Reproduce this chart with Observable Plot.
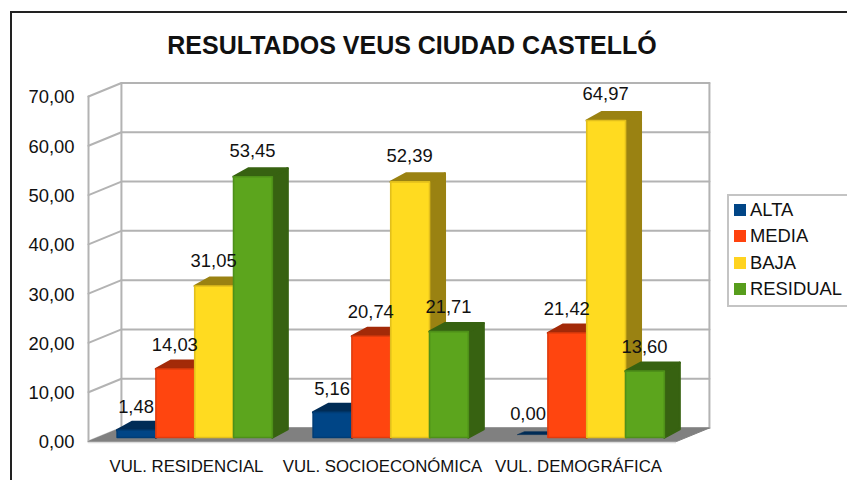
<!DOCTYPE html>
<html>
<head>
<meta charset="utf-8">
<script src="https://cdn.jsdelivr.net/npm/d3@7"></script>
<script src="https://cdn.jsdelivr.net/npm/@observablehq/plot@0.6"></script>
<style>
html,body{margin:0;padding:0;background:#fff;overflow:hidden;width:847px;height:480px;font-family:"Liberation Sans",Arial,sans-serif;color:#111}
#wrap{position:relative;width:847px;height:480px;overflow:hidden}
#chart{position:absolute;left:0;top:0}
#frame{position:absolute;left:10px;top:11px;width:900px;height:520px;border:2px solid #222;box-sizing:border-box}
#title{position:absolute;left:0;width:824px;top:30px;text-align:center;font-weight:bold;font-size:25px;line-height:30px;color:#111;white-space:nowrap}
#legend{position:absolute;left:727px;top:194px;width:150px;height:113px;border:2px solid #c4c4c4;box-sizing:border-box}
.row{position:absolute;left:0;height:26px;line-height:26px;font-size:18.4px;white-space:nowrap}
.sw{position:absolute;left:5px;top:7px;width:12px;height:12px}
.lb{position:absolute;left:21px;top:0}
</style>
</head>
<body>
<div id="wrap">
  <div id="chart"></div>
  <div id="frame"></div>
  <div id="title"></div>
  <div id="legend"></div>
</div>
<script>
const titleText = "RESULTADOS VEUS CIUDAD CASTELLÓ";
const categories = ["VUL. RESIDENCIAL", "VUL. SOCIOECONÓMICA", "VUL. DEMOGRÁFICA"];
const seriesNames = ["ALTA", "MEDIA", "BAJA", "RESIDUAL"];
const alta = [1.48, 5.16, 0.00];
const media = [14.03, 20.74, 21.42];
const baja = [31.05, 52.39, 64.97];
const residual = [53.45, 21.71, 13.60];
const seriesValues = [alta, media, baja, residual];
const frontColors = ["#004586", "#ff420e", "#ffd320", "#579d1c"];
const faceFront   = ["#004586", "#ff450f", "#ffdb20", "#5ca51d"];
const edgeColors  = ["#003d76", "#e03c0d", "#e2bf1c", "#4e9019"];
const sideColors  = ["#002c56", "#a32a08", "#9a8212", "#376211"];
const yTicks = [0, 10, 20, 30, 40, 50, 60, 70];

// Oblique-projection proportions, in data units
const wallDX = 0.168, wallDY = 2.74;   // floor depth
const barStart = 0.146, barW = 0.198;  // first bar offset and bar width in group units
const liftY = 0.81;                    // bars stand slightly behind the floor's front edge
const sideDX = 0.078, sideDY = 1.7;    // bar depth
const barScale = 0.99;                 // foreshortening of the bar plane

const polys = [];
const addPoly = (id, pts, fill, stroke, sw) =>
  pts.concat([pts[0]]).forEach(([x, y]) => polys.push({id, x, y, fill, stroke, sw}));

categories.forEach((cat, g) => {
  seriesNames.forEach((name, s) => {
    const v = seriesValues[s][g];
    const x0 = g + barStart + s * barW, x1 = x0 + barW;
    const y0 = liftY, y1 = v * barScale + liftY;
    const id = `${g}-${s}`;
    if (v === 0) {
      // a zero-height bar only shows a thin wedge of its top
      addPoly(id + "-top", [[x0 + sideDX * 0.56, y1 + sideDY * 0.35], [x0 + sideDX, y1 + sideDY * 0.7], [x1, y1 + sideDY * 0.7], [x1, y1 + sideDY * 0.35]], sideColors[s], sideColors[s], 0.6);
      return;
    }
    addPoly(id + "-side", [[x1, y0], [x1 + sideDX, y0 + sideDY], [x1 + sideDX, y1 + sideDY], [x1, y1]], sideColors[s], sideColors[s], 2.4);
    addPoly(id + "-top", [[x0, y1], [x0 + sideDX, y1 + sideDY], [x1 + sideDX, y1 + sideDY], [x1, y1]], sideColors[s], sideColors[s], 2.4);
    addPoly(id + "-front", [[x0, y0], [x1, y0], [x1, y1], [x0, y1]], faceFront[s], edgeColors[s], 1.6);
  });
});

const labels = [];
categories.forEach((cat, g) => seriesNames.forEach((name, s) => {
  const v = seriesValues[s][g];
  labels.push({x: g + barStart + (s + 0.5) * barW, y: v + liftY, t: d3.format(".2f")(v).replace(".", ",")});
}));

const gridRows = [];
yTicks.forEach(t => {
  [[0, t], [wallDX, t + wallDY], [3 + wallDX, t + wallDY]].forEach(([x, y]) => gridRows.push({t, x, y}));
});
const wallEdges = [
  {id: "left", pts: [[0, 0], [0, 70]]},
  {id: "back", pts: [[wallDX, wallDY], [wallDX, 70 + wallDY]]},
  {id: "right", pts: [[3 + wallDX, wallDY], [3 + wallDX, 70 + wallDY]]}
].flatMap(e => e.pts.map(([x, y]) => ({id: e.id, x, y})));
const floor = [[0, 0], [3, 0], [3 + wallDX, wallDY], [wallDX, wallDY], [0, 0]].map(([x, y]) => ({x, y}));

const comma = d => d3.format(".2f")(d).replace(".", ",");
const fontSize = 18.4;

const plot = Plot.plot({
  width: 847, height: 480,
  marginLeft: 78, marginRight: 171, marginTop: 96, marginBottom: 39,
  style: {fontFamily: '"Liberation Sans", Arial, sans-serif', background: "transparent", color: "#111"},
  x: {type: "linear", domain: [0, 3], range: [88, 676], axis: null},
  y: {type: "linear", domain: [0, 70], range: [441, 96], axis: null},
  color: {type: "identity"},
  marks: [
    Plot.line(gridRows, {x: "x", y: "y", z: "t", stroke: "#b3b3b3", strokeWidth: 2, curve: "linear"}),
    Plot.line(wallEdges, {x: "x", y: "y", z: "id", stroke: "#b3b3b3", strokeWidth: 2}),
    Plot.line(floor, {x: "x", y: "y", fill: "#808080", stroke: "#808080", strokeWidth: 1}),
    Plot.ruleY([0], {x1: 0, x2: 3, dy: 1, stroke: "#dcdcdc", strokeWidth: 1.5}),
    Plot.line(polys, {x: "x", y: "y", z: "id", fill: "fill", stroke: "stroke", strokeWidth: "sw", strokeLinejoin: "round"}),
    Plot.text(labels, {x: "x", y: "y", text: "t", dy: -23, dx: -0.5, fontSize, fill: "#111"}),
    Plot.axisY({ticks: yTicks, tickSize: 0, tickPadding: 4, dy: 1, tickFormat: comma, fontSize, label: null, anchor: "left"}),
    Plot.axisX({ticks: [0.5, 1.5, 2.5], tickSize: 0, tickPadding: 19, tickFormat: d => categories[Math.floor(d)], fontSize: 16.8, label: null, anchor: "bottom"})
  ]
});
document.getElementById("chart").appendChild(plot);
document.getElementById("title").textContent = titleText;

const legend = d3.select("#legend");
seriesNames.forEach((name, i) => {
  const row = legend.append("div").attr("class", "row").style("top", (1 + i * 26.3) + "px");
  row.append("div").attr("class", "sw").style("background", frontColors[i]);
  row.append("div").attr("class", "lb").text(name);
});
</script>
</body>
</html>
